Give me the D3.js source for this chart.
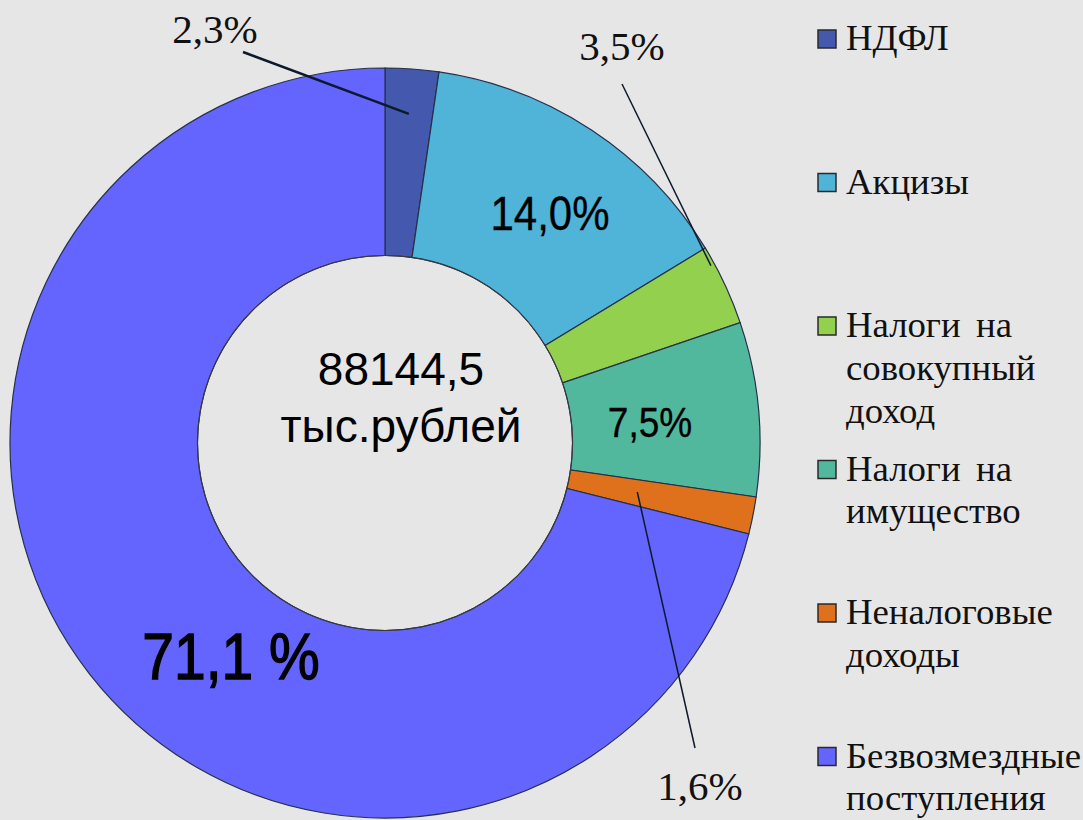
<!DOCTYPE html>
<html lang="ru">
<head>
  <meta charset="UTF-8">
  <title>Структура доходов</title>
  <style>
    html, body {
      margin: 0;
      padding: 0;
      background-color: #e6e6e6;
    }
    svg {
      display: block;
    }
  </style>
</head>
<body>
  <div id="chart"></div>

  <script src="https://d3js.org/d3.v7.min.js"></script>
  <script>
    // data
    const categories = ["НДФЛ", "Акцизы", "Налоги на совокупный доход",
      "Налоги на имущество", "Неналоговые доходы", "Безвозмездные поступления"];
    const shares = [2.3, 14.0, 3.5, 7.5, 1.6, 71.1];
    const shareLabels = ["2,3%", "14,0%", "3,5%", "7,5%", "1,6%", "71,1 %"];
    const legendLines = [["НДФЛ"], ["Акцизы"], ["Налоги на", "совокупный", "доход"],
      ["Налоги на", "имущество"], ["Неналоговые", "доходы"], ["Безвозмездные", "поступления"]];
    const colors = ["#4459ad", "#50b3d8", "#93d04d", "#52b89d", "#e0711c", "#6464ff"];
    const totalText = ["88144,5", "тыс.рублей"];

    const serifFont = "'Liberation Serif', 'Times New Roman', serif";
    const sansFont = "'Liberation Sans', Arial, sans-serif";

    const width = 1083, height = 820;
    const cx = 385, cy = 443;
    const outerR = 375, innerR = 187.5;

    const svg = d3.select("#chart").append("svg")
      .attr("width", width)
      .attr("height", height)
      .style("background", "#e6e6e6");

    const g = svg.append("g")
      .attr("transform", "translate(" + cx + "," + cy + ")");

    const pie = d3.pie().sort(null).value(d => d);
    const arcs = pie(shares);
    const arc = d3.arc().innerRadius(innerR).outerRadius(outerR);

    // slices
    g.selectAll("path.slice")
      .data(arcs)
      .enter()
      .append("path")
      .attr("class", "slice")
      .attr("d", arc)
      .attr("fill", (d, i) => colors[i])
      .attr("stroke", "#26304a")
      .attr("stroke-width", 1.2);

    // outline of the hole
    g.append("circle")
      .attr("r", innerR)
      .attr("fill", "none")
      .attr("stroke", "#3a3a3a")
      .attr("stroke-width", 1);

    // labels inside slices (index, dx, dy from center, font size)
    const innerLabels = [
      { i: 1, x: 165, y: -213, size: 42, sw: 0.3 },
      { i: 3, x: 265, y: -6, size: 37, sw: 0.3 },
      { i: 5, x: -154, y: 236, size: 57, sw: 1.2 }
    ];
    innerLabels.forEach(function (l) {
      g.append("text")
        .attr("transform", "translate(" + l.x + "," + l.y + ") scale(1,1.13)")
        .attr("text-anchor", "middle")
        .style("font-family", sansFont)
        .style("font-size", l.size + "px")
        .attr("fill", "#000")
        .attr("stroke", "#000")
        .attr("stroke-width", l.sw)
        .text(shareLabels[l.i]);
    });

    // labels outside with leader lines
    // frac = position inside the slice, r = radius of the line end
    const outerLabels = [
      { i: 0, frac: 0.5, r: 330, lx: -142, ly: -391, tx: -170, ty: -400, w: 2.5 },
      { i: 2, frac: 0.22, r: 371, lx: 237, ly: -359, tx: 237, ty: -383, w: 1.5 },
      { i: 4, frac: 0.47, r: 257, lx: 310, ly: 305, tx: 315, ty: 357, w: 1.5 }
    ];
    outerLabels.forEach(function (l) {
      const a = arcs[l.i];
      const ang = a.startAngle + l.frac * (a.endAngle - a.startAngle);
      const p = d3.pointRadial(ang, l.r);
      g.append("line")
        .attr("x1", p[0]).attr("y1", p[1])
        .attr("x2", l.lx).attr("y2", l.ly)
        .attr("stroke", "#0c1a2c")
        .attr("stroke-width", l.w);
      g.append("text")
        .attr("x", l.tx)
        .attr("y", l.ty)
        .attr("text-anchor", "middle")
        .attr("fill", "#111")
        .style("font-family", serifFont)
        .style("font-size", "41px")
        .text(shareLabels[l.i]);
    });

    // total in the middle
    g.append("text")
      .attr("text-anchor", "middle")
      .style("font-family", sansFont)
      .style("font-size", "46px")
      .selectAll("tspan")
      .data(totalText)
      .enter()
      .append("tspan")
      .attr("x", 16)
      .attr("y", (d, i) => -58 + i * 57)
      .text(d => d);

    // legend
    const legendY = d3.scaleLinear().domain([0, 1]).range([30, 173.5]);
    const legend = svg.append("g");
    const item = legend.selectAll("g")
      .data(categories)
      .enter()
      .append("g")
      .attr("transform", (d, i) => "translate(818," + legendY(i) + ")");

    item.append("rect")
      .attr("width", 18)
      .attr("height", 18)
      .attr("fill", (d, i) => colors[i])
      .attr("stroke", "#2a2a2a")
      .attr("stroke-width", 1.5);

    // text is a bit wider than plain Times in the original
    item.append("text")
      .attr("transform", "translate(28,0) scale(1.05,1)")
      .style("font-family", serifFont)
      .style("font-size", "35px")
      .style("word-spacing", "6px")
      .attr("fill", "#111")
      .selectAll("tspan")
      .data((d, i) => legendLines[i])
      .enter()
      .append("tspan")
      .attr("x", 0)
      .attr("y", (d, j) => 20 + j * 43)
      .text(d => d);
  </script>
</body>
</html>
